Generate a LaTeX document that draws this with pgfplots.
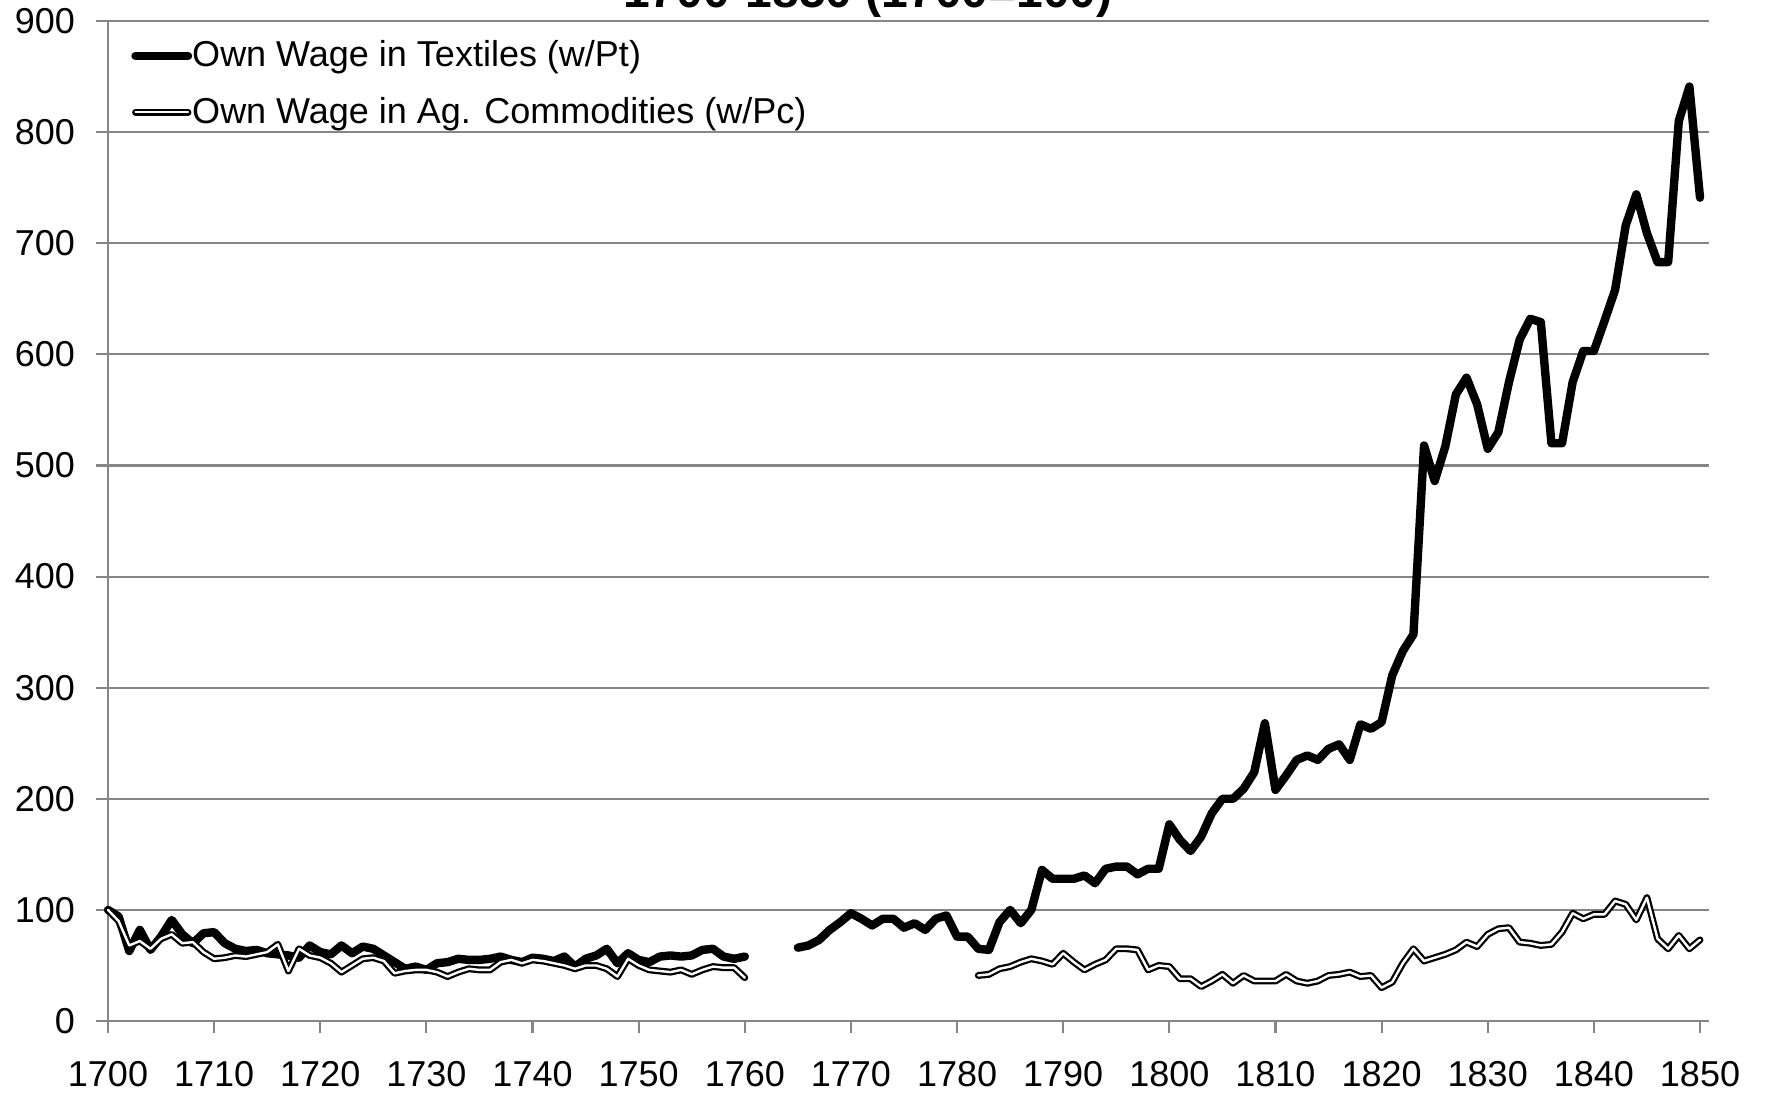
\documentclass[border=0pt]{standalone}
\usepackage{pgfplots}
\usepackage{pgfplotstable}
\pgfplotsset{compat=1.18}
\usepackage{fontspec}
\setmainfont{Liberation Sans}
\definecolor{gridgray}{RGB}{134,134,134}

\pgfplotstableread{
year tex ag
1700 100 100
1701 94 90
1702 63 68
1703 82 72
1704 64 65
1705 76 74
1706 91 78
1707 78 70
1708 70 71
1709 79 62
1710 80 56
1711 70 57
1712 65 59
1713 63 58
1714 64 60
1715 61 62
1716 60 69
1717 59 45
1718 57 65
1719 68 59
1720 62 57
1721 60 52
1722 68 44
1723 61 50
1724 67 56
1725 65 57
1726 59 54
1727 53 43
1728 47 45
1729 49 46
1730 46 46
1731 52 44
1732 53 40
1733 56 44
1734 55 47
1735 55 46
1736 56 46
1737 58 53
1738 55 55
1739 53 52
1740 57 55
1741 56 54
1742 54 52
1743 58 50
1744 49 47
1745 56 50
1746 59 50
1747 65 47
1748 52 40
1749 61 56
1750 55 50
1751 53 46
1752 58 45
1753 59 44
1754 58 46
1755 59 42
1756 64 46
1757 65 49
1758 58 48
1759 56 48
1760 58 39
1761 nan nan
1762 nan nan
1763 nan nan
1764 nan nan
1765 66 nan
1766 68 nan
1767 73 nan
1768 82 nan
1769 89 nan
1770 97 nan
1771 92 nan
1772 86 nan
1773 92 nan
1774 92 nan
1775 84 nan
1776 88 nan
1777 82 nan
1778 92 nan
1779 95 nan
1780 76 nan
1781 76 nan
1782 65 41
1783 64 42
1784 89 47
1785 100 49
1786 88 53
1787 100 56
1788 136 54
1789 128 51
1790 128 61
1791 128 53
1792 131 46
1793 124 51
1794 137 55
1795 139 65
1796 139 65
1797 132 64
1798 137 46
1799 137 50
1800 177 49
1801 163 38
1802 153 38
1803 166 31
1804 187 36
1805 200 42
1806 200 34
1807 209 41
1808 224 36
1809 268 36
1810 208 36
1811 221 42
1812 235 36
1813 239 34
1814 235 36
1815 245 41
1816 249 42
1817 235 44
1818 267 40
1819 263 41
1820 269 30
1821 311 35
1822 333 52
1823 348 65
1824 518 54
1825 486 57
1826 517 60
1827 564 64
1828 579 71
1829 555 67
1830 515 78
1831 530 83
1832 575 84
1833 613 71
1834 632 70
1835 629 68
1836 520 69
1837 520 80
1838 575 97
1839 603 92
1840 603 96
1841 630 96
1842 658 108
1843 716 105
1844 744 91
1845 709 111
1846 683 74
1847 683 65
1848 810 77
1849 841 65
1850 741 73
}\datatable

\begin{document}
\begin{tikzpicture}
\begin{axis}[
  scale only axis,
  width=533.67pt, height=333.33pt,
  xmin=1700, xmax=1850.85,
  ymin=0, ymax=900,
  xtick={1700,1710,...,1850},
  ytick={0,100,...,900},
  axis lines*=left,
  axis line style={draw=gridgray, line width=0.7pt, -},
  ymajorgrids,
  grid style={draw=gridgray, line width=0.7pt},
  tick align=outside,
  major tick length=4pt,
  tick style={draw=gridgray, line width=0.7pt},
  /pgf/number format/1000 sep={},
  /pgf/number format/assume math mode=true,
  tick label style={font=\fontsize{12}{14}\selectfont},
  xticklabel style={yshift=-6pt},
  yticklabel style={xshift=-3.5pt},
  unbounded coords=jump,
  clip=false,
  legend cell align=left,
  legend image code/.code={\draw[#1] (0pt,0pt) -- (17.5pt,0pt);},
  legend style={at={(rel axis cs:0.0142,0.981)}, anchor=north west,
    draw=none, fill=none, inner sep=0pt, row sep=8.6pt,
    nodes={inner sep=0pt},
    font=\fontsize{12}{14}\selectfont},
]
\addplot[black, line width=2.8pt, line join=round, line cap=round] table[x=year, y=tex] {\datatable};
\addlegendentry{Own Wage in Textiles (w/Pt)}
\addplot[black, line width=0.75pt, double=white, double distance=0.8pt, line join=round, line cap=round] table[x=year, y=ag] {\datatable};
\addlegendentry{Own Wage in Ag. Commodities (w/Pc)}
\end{axis}
\begin{scope}
\clip (-36pt,-24.67pt) rectangle (552.33pt,340.33pt);
\node[anchor=base, font=\fontsize{16}{19}\selectfont\bfseries, inner sep=0pt] at (253.3pt,337.67pt) {1700-1850 (1700=100)};
\end{scope}
\pgfresetboundingbox
\useasboundingbox (-36pt,-24.67pt) rectangle (552.33pt,340.33pt);
\end{tikzpicture}
\end{document}
